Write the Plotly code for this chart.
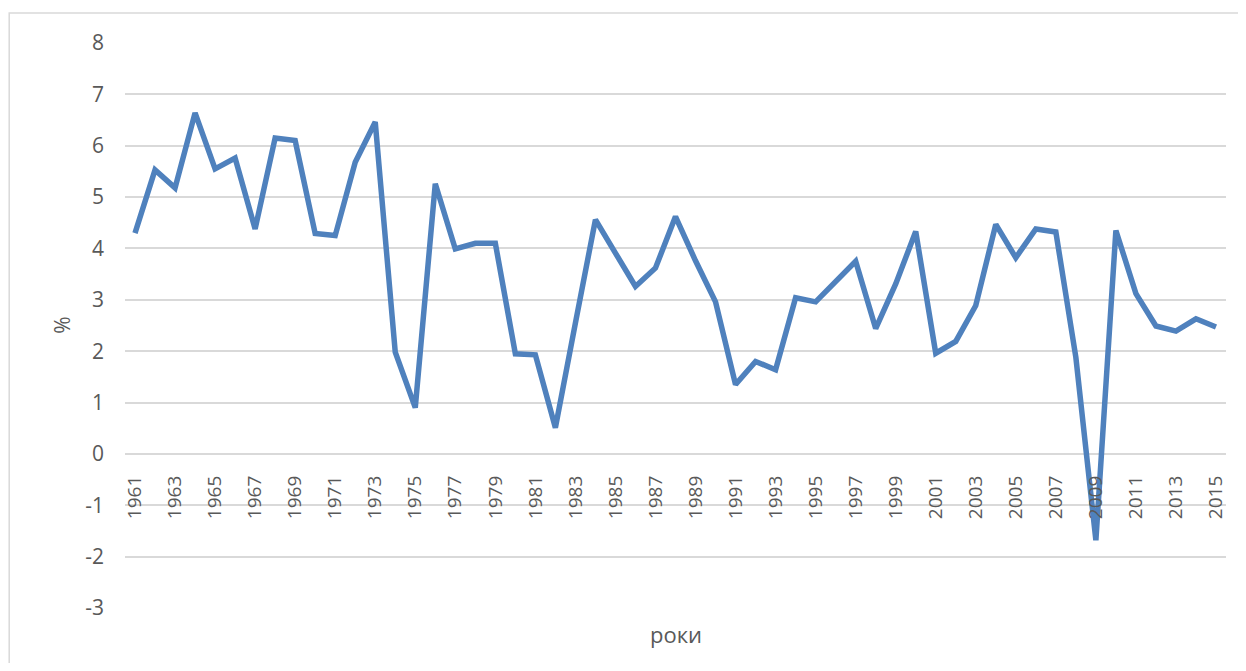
import plotly.graph_objects as go

years = list(range(1961, 2016))
growth = [4.30, 5.53, 5.18, 6.64, 5.55, 5.76, 4.38, 6.15, 6.10, 4.29,
          4.25, 5.68, 6.46, 1.98, 0.90, 5.26, 3.99, 4.10, 4.10, 1.95,
          1.93, 0.51, 2.55, 4.56, 3.91, 3.26, 3.62, 4.62, 3.76, 2.96,
          1.35, 1.80, 1.64, 3.04, 2.96, 3.37, 3.75, 2.44, 3.31, 4.33,
          1.96, 2.19, 2.89, 4.47, 3.82, 4.38, 4.32, 1.88, -1.68, 4.35,
          3.12, 2.49, 2.39, 2.63, 2.47]
tick_years = [str(y) for y in range(1961, 2016, 2)]
y_ticks = list(range(-3, 9))
y_ticktext = [str(v) for v in y_ticks]  # plain hyphen, as in the original

y_min, y_max = -3, 8

# figure is offset by the page's 8px body margin
W, H = 1230, 655
L, R, T, B = 117, 10, 35, 55
pw, ph = W - L - R, H - T - B

fig = go.Figure(go.Scatter(
    x=[str(y) for y in years], y=growth, mode="lines",
    line=dict(color="#4f81bd", width=5.5),
))

fig.update_layout(
    width=W, height=H,
    margin=dict(l=L, r=R, t=T, b=B),
    plot_bgcolor="white", paper_bgcolor="white",
    showlegend=False,
    font=dict(family="Open Sans, sans-serif", color="#595959"),
    xaxis=dict(
        type="category",
        tickmode="array", tickvals=tick_years, ticktext=tick_years,
        tickangle=-90, tickfont=dict(size=19, color="#595959"),
        showgrid=False, showline=False, zeroline=False,
        anchor="free", position=(0 - y_min) / (y_max - y_min),
        range=[-0.5, len(years) - 0.5],
        ticks="", ticklabelstandoff=17,
    ),
    yaxis=dict(
        range=[y_min, y_max],
        tickmode="array", tickvals=y_ticks, ticktext=y_ticktext,
        showgrid=True, gridcolor="#d9d9d9", gridwidth=1.5,
        zeroline=False, showline=False,
        tickfont=dict(size=21, color="#595959"),
        ticks="", ticklabelstandoff=20,
    ),
)

fig.add_annotation(text="%", xref="paper", yref="paper",
                   x=-80 / pw, y=0.5, textangle=-90, showarrow=False,
                   font=dict(size=21, color="#595959"))

fig.add_annotation(text="роки", xref="paper", yref="paper",
                   x=0.5, y=-26 / ph, yanchor="middle", showarrow=False,
                   font=dict(size=22, color="#595959"))

fig.add_shape(type="rect", xref="paper", yref="paper",
              x0=-(L - 1) / pw, x1=1 + (R + 5) / pw,
              y0=-(B + 5) / ph, y1=1 + (T - 5) / ph,
              line=dict(color="#d9d9d9", width=1.5))

fig.write_html("out.html")
